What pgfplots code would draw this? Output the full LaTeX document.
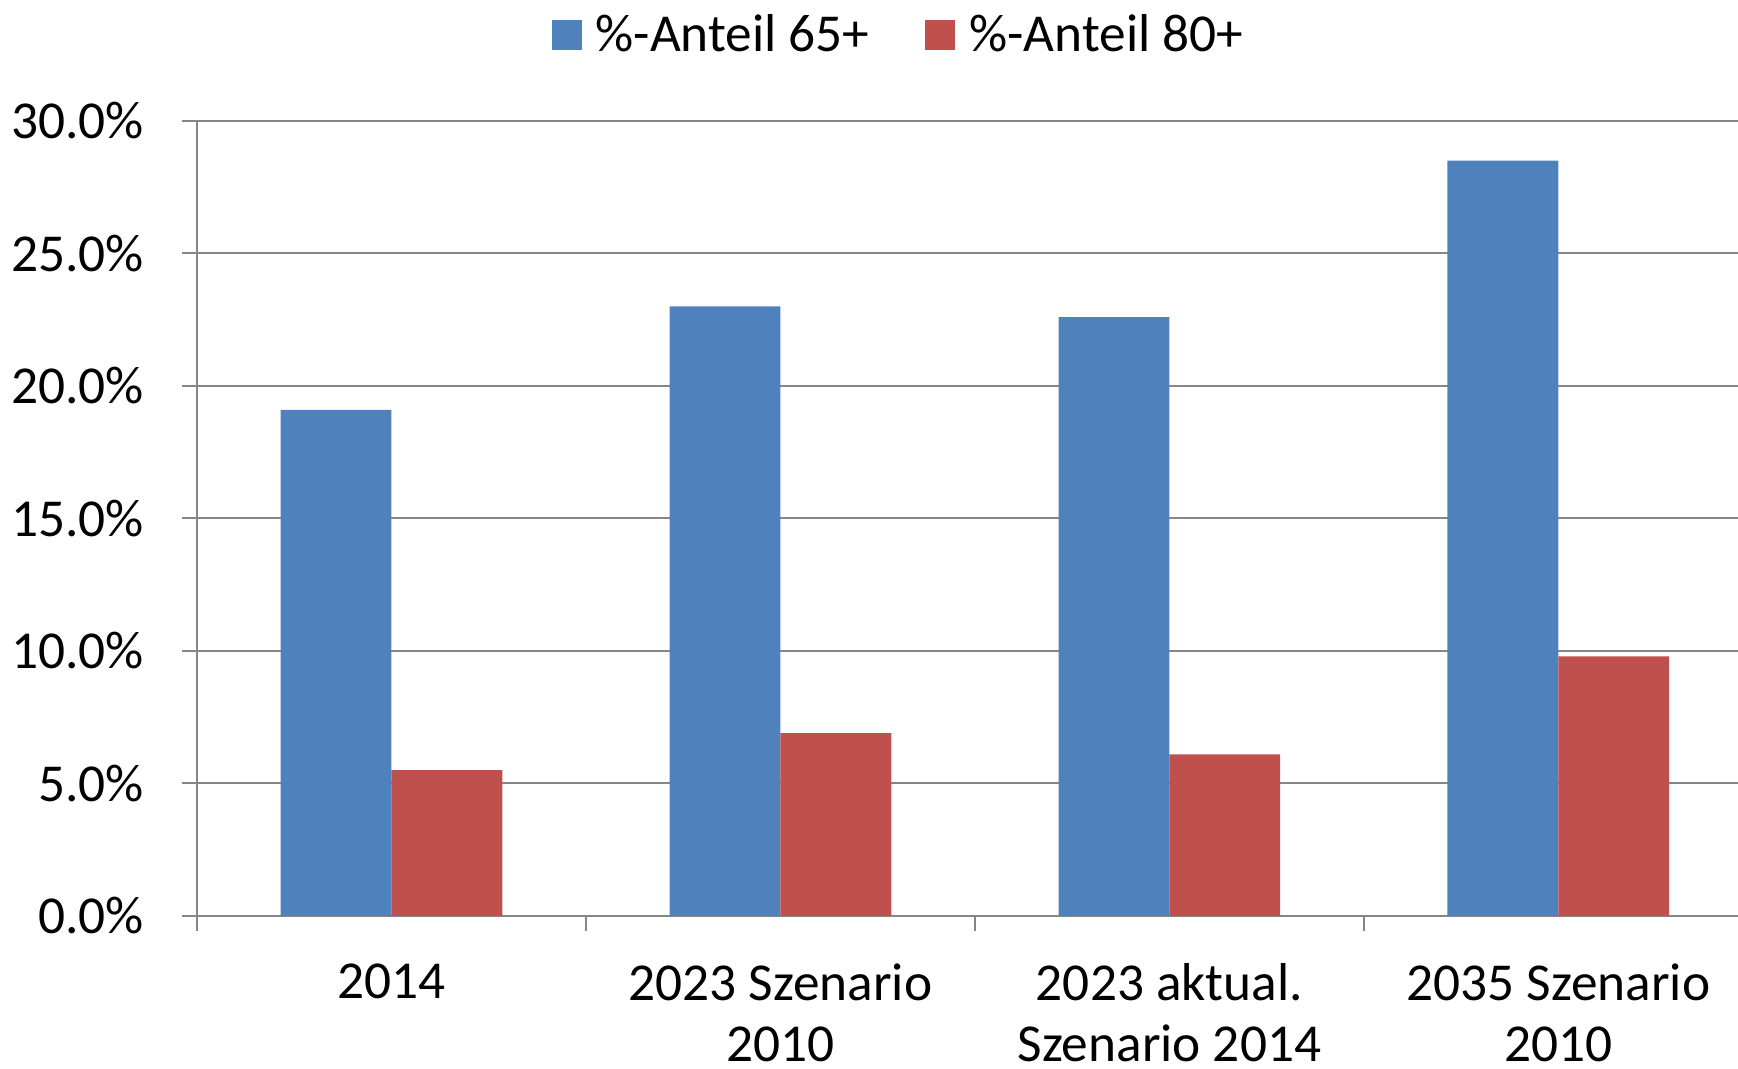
\documentclass[border=0pt]{standalone}
\usepackage{pgfplots}
\pgfplotsset{compat=1.18}
\usepackage{fontspec}
\setmainfont{Carlito}
\definecolor{blueA}{HTML}{4F81BD}
\definecolor{redA}{HTML}{C0504D}
\definecolor{gridG}{RGB}{134,134,134}
\begin{document}
\begin{tikzpicture}
\path[use as bounding box] (-59.1pt,-45.9pt) rectangle (462.3pt,274.8pt);
\begin{axis}[
  at={(0,0)}, anchor=south west,
  scale only axis,
  width=462.3pt, height=238.5pt,
  xmin=-0.5, xmax=3.462,
  ymin=0, ymax=30,
  axis lines*=left,
  axis line style={gridG, line width=0.6pt},
  ymajorgrids,
  grid style={gridG, line width=0.6pt},
  ybar=0pt, bar width=0.285,
  ytick={0,5,10,15,20,25,30},
  yticklabel={\pgfmathprintnumber[fixed,fixed zerofill,precision=1]{\tick}\%},
  /pgf/number format/assume math mode=true,
  xtick={0,1,2,3},
  xticklabels={2014,{2023 Szenario\\2010},{2023 aktual.\\Szenario 2014},{2035 Szenario\\2010}},
  minor xtick={-0.5,0.5,1.5,2.5},
  major x tick style={draw=none},
  tick align=outside,
  major tick length=4.5pt, minor tick length=4.5pt,
  tick style={gridG, line width=0.6pt},
  ticklabel style={font=\fontsize{16}{18.3}\selectfont, text=black},
  yticklabel style={anchor=east, inner sep=0pt, xshift=-11.2pt},
  xticklabel style={anchor=north, inner sep=0pt, align=center, yshift=-9.6pt},
  legend columns=2,
  legend style={at={(0.2297,1.108)}, anchor=west, draw=none, fill=none, inner sep=0pt,
    font=\fontsize{16}{18.7}\selectfont,
    nodes={inner xsep=0pt, inner ysep=0pt},
    /tikz/every odd column/.append style={column sep=4.2pt},
    /tikz/every even column/.append style={column sep=16.8pt}},
  legend image code/.code={\fill[#1] (0pt,-4.5pt) rectangle (9pt,4.5pt);},
]
\addplot[fill=blueA, draw=none] coordinates {(0,19.1) (1,23.0) (2,22.6) (3,28.5)};
\addplot[fill=redA, draw=none] coordinates {(0,5.5) (1,6.9) (2,6.1) (3,9.8)};
\legend{\%-Anteil 65+,\%-Anteil 80+}
\end{axis}
\end{tikzpicture}
\end{document}
